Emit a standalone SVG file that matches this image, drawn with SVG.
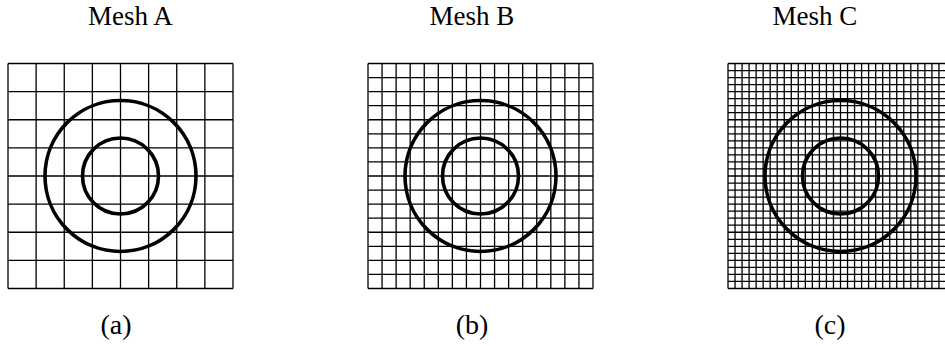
<svg xmlns="http://www.w3.org/2000/svg" width="945" height="346" viewBox="0 0 945 346">
<style>
.t{font-family:"Liberation Serif","DejaVu Serif",serif;font-size:28px;fill:#000;text-anchor:middle}
.h{font-size:27px}
.g{fill:none;stroke:#000;stroke-width:1.3}
.c{fill:none;stroke:#000;stroke-width:3.6}
</style>
<rect width="945" height="346" fill="#fff"/>
<g id="meshA">
<text class="t h" x="130.5" y="24.5">Mesh A</text>
<path class="g" d="M8,63.5v225m28.125,-225v225m28.125,-225v225m28.125,-225v225m28.125,-225v225m28.125,-225v225m28.125,-225v225m28.125,-225v225m28.125,-225v225"/>
<path class="g" d="M8,63.5h225m-225,28.125h225m-225,28.125h225m-225,28.125h225m-225,28.125h225m-225,28.125h225m-225,28.125h225m-225,28.125h225m-225,28.125h225"/>
<circle class="c" cx="120.5" cy="176" r="75.5"/>
<circle class="c" cx="120.5" cy="176" r="38"/>
<text class="t" x="116" y="334">(a)</text>
</g>
<g id="meshB">
<text class="t h" x="472" y="24.5">Mesh B</text>
<path class="g" d="M368,63.5v225m14.0625,-225v225m14.0625,-225v225m14.0625,-225v225m14.0625,-225v225m14.0625,-225v225m14.0625,-225v225m14.0625,-225v225m14.0625,-225v225m14.0625,-225v225m14.0625,-225v225m14.0625,-225v225m14.0625,-225v225m14.0625,-225v225m14.0625,-225v225m14.0625,-225v225m14.0625,-225v225"/>
<path class="g" d="M368,63.5h225m-225,14.0625h225m-225,14.0625h225m-225,14.0625h225m-225,14.0625h225m-225,14.0625h225m-225,14.0625h225m-225,14.0625h225m-225,14.0625h225m-225,14.0625h225m-225,14.0625h225m-225,14.0625h225m-225,14.0625h225m-225,14.0625h225m-225,14.0625h225m-225,14.0625h225m-225,14.0625h225"/>
<circle class="c" cx="480.5" cy="176" r="75.5"/>
<circle class="c" cx="480.5" cy="176" r="38"/>
<text class="t" x="472" y="334">(b)</text>
</g>
<g id="meshC">
<text class="t h" x="815" y="24.5">Mesh C</text>
<path class="g" d="M728,63.5v225m7.03125,-225v225m7.03125,-225v225m7.03125,-225v225m7.03125,-225v225m7.03125,-225v225m7.03125,-225v225m7.03125,-225v225m7.03125,-225v225m7.03125,-225v225m7.03125,-225v225m7.03125,-225v225m7.03125,-225v225m7.03125,-225v225m7.03125,-225v225m7.03125,-225v225m7.03125,-225v225m7.03125,-225v225m7.03125,-225v225m7.03125,-225v225m7.03125,-225v225m7.03125,-225v225m7.03125,-225v225m7.03125,-225v225m7.03125,-225v225m7.03125,-225v225m7.03125,-225v225m7.03125,-225v225m7.03125,-225v225m7.03125,-225v225m7.03125,-225v225m7.03125,-225v225m7.03125,-225v225"/>
<path class="g" d="M728,63.5h225m-225,7.03125h225m-225,7.03125h225m-225,7.03125h225m-225,7.03125h225m-225,7.03125h225m-225,7.03125h225m-225,7.03125h225m-225,7.03125h225m-225,7.03125h225m-225,7.03125h225m-225,7.03125h225m-225,7.03125h225m-225,7.03125h225m-225,7.03125h225m-225,7.03125h225m-225,7.03125h225m-225,7.03125h225m-225,7.03125h225m-225,7.03125h225m-225,7.03125h225m-225,7.03125h225m-225,7.03125h225m-225,7.03125h225m-225,7.03125h225m-225,7.03125h225m-225,7.03125h225m-225,7.03125h225m-225,7.03125h225m-225,7.03125h225m-225,7.03125h225m-225,7.03125h225m-225,7.03125h225"/>
<circle class="c" cx="840.5" cy="176" r="75.5"/>
<circle class="c" cx="840.5" cy="176" r="38"/>
<text class="t" x="830" y="334">(c)</text>
</g>
</svg>
